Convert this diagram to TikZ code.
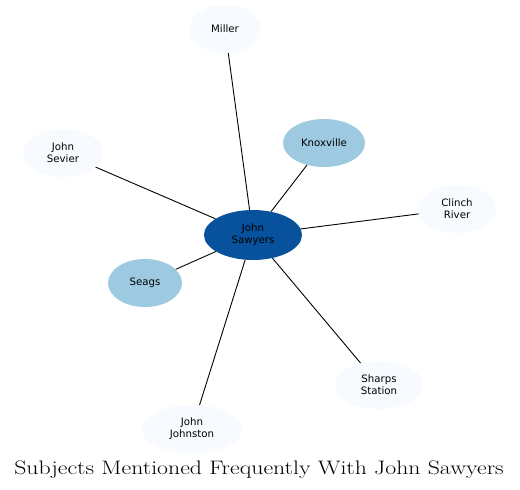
\documentclass[tikz,border=0pt]{standalone}
\usepackage{fontspec}
\usepackage{xcolor}
\usetikzlibrary{shapes.geometric, positioning}
\newfontfamily\labelfont{DejaVu Sans}
\definecolor{hubblue}{HTML}{08519C}
\definecolor{midblue}{HTML}{9ECAE1}
\definecolor{paleblue}{HTML}{F7FBFF}
\tikzset{
  subject/.style={ellipse, inner sep=0pt, minimum height=48pt, align=center,
    font=\labelfont\fontsize{10.2}{11.8}\selectfont, text=black},
  hub/.style={subject, fill=hubblue, minimum width=98pt, minimum height=50pt},
  near/.style={subject, fill=midblue},
  far/.style={subject, fill=paleblue},
  link/.style={black, line width=0.9pt}
}
\begin{document}
\begin{tikzpicture}[x=1pt, y=-1pt]
  \useasboundingbox (0,0) rectangle (520,490);
  % subjects
  \node[hub, minimum width=98pt] (sawyers) at (253,235) {John\\Sawyers};
  \node[far, minimum width=72pt] (miller) at (225,29) {Miller};
  \node[far, minimum width=80pt] (sevier) at (63,153) {John\\Sevier};
  \node[near, minimum width=82pt] (knoxville) at (324,143) {Knoxville};
  \node[far, minimum width=78pt] (clinch) at (457,209) {Clinch\\River};
  \node[near, minimum width=74pt] (seags) at (145,283) {Seags};
  \node[far, minimum width=88pt] (sharps) at (379,385) {Sharps\\Station};
  \node[far, minimum width=100pt] (johnston) at (192,429) {John\\Johnston};
  % links
  \foreach \other in {miller, sevier, knoxville, clinch, seags, sharps, johnston}
    \draw[link] (sawyers) -- (\other);
  \node[anchor=base, xscale=1.22, inner sep=0pt] (title) at (259,474)
    {\fontsize{19.5}{22}\selectfont Subjects Mentioned Frequently With John Sawyers};
\end{tikzpicture}
\end{document}
